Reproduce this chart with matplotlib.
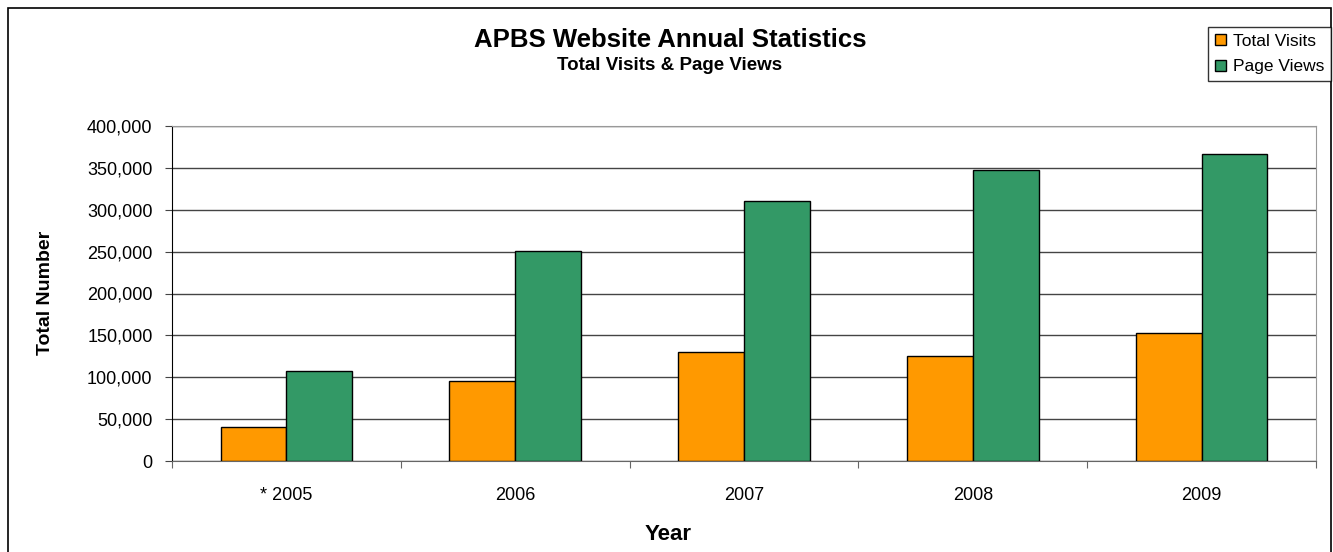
import matplotlib
matplotlib.use("Agg")
import matplotlib.pyplot as plt
import numpy as np
from matplotlib.patches import Rectangle
from matplotlib.ticker import FuncFormatter

years = ["* 2005", "2006", "2007", "2008", "2009"]
total_visits = [41000, 95000, 130000, 125000, 153000]
page_views = [108000, 251000, 310000, 347000, 367000]

plt.rcParams["font.family"] = ["Liberation Sans", "DejaVu Sans"]

W, H = 1333, 552
fig = plt.figure(figsize=(W / 100, H / 100), dpi=100)

# outer chart border (bottom runs off the image)
fig.patches.append(Rectangle((8 / W, -0.05), (1331 - 8) / W, 1 - 8 / H + 0.05,
                             transform=fig.transFigure, fill=False,
                             edgecolor="black", lw=1.2))

ax = fig.add_axes([172 / W, 1 - 461 / H, (1316 - 172) / W, (461 - 126) / H])

x = np.arange(len(years))
w = 0.288
ax.bar(x - w / 2, total_visits, w, color="#FF9900", edgecolor="black", lw=1,
       label="Total Visits", zorder=3)
ax.bar(x + w / 2, page_views, w, color="#339966", edgecolor="black", lw=1,
       label="Page Views", zorder=3)

ax.set_xlim(-0.5, len(years) - 0.5)
ax.set_ylim(0, 400000)
ax.set_yticks(np.arange(0, 400001, 50000))
ax.yaxis.set_major_formatter(FuncFormatter(lambda v, p: f"{int(v):,}"))
ax.yaxis.grid(True, color="#444444", lw=1, zorder=0)
ax.tick_params(axis="y", labelsize=13, length=5, direction="out", color="#444444", pad=9)

# category labels at centres, ticks at boundaries
ax.set_xticks(np.arange(-0.5, len(years), 1.0))
ax.set_xticklabels([])
ax.tick_params(axis="x", which="major", length=5, direction="out", color="#666666")
ax.set_xticks(x, minor=True)
ax.set_xticklabels(years, minor=True)
ax.tick_params(axis="x", which="minor", length=0, labelsize=13, pad=19)

ax.spines["left"].set_color("black")
ax.spines["bottom"].set_color("#666666")
ax.spines["top"].set_color("#999999")
ax.spines["right"].set_color("#999999")

fig.text(46 / W, 1 - 293 / H, "Total Number", rotation=90, ha="center", va="center",
         fontsize=14, fontweight="bold")
fig.text(668 / W, 1 - 535 / H, "Year", ha="center", va="center",
         fontsize=16, fontweight="bold")

fig.text(670 / W, 1 - 40 / H, "APBS Website Annual Statistics", ha="center", va="center",
         fontsize=18.5, fontweight="bold")
fig.text(670 / W, 1 - 66 / H, "Total Visits & Page Views", ha="center", va="center",
         fontsize=13.5, fontweight="bold")

leg = fig.legend(loc="upper right", bbox_to_anchor=(1331 / W, 1 - 27 / H),
                 fontsize=12.5, frameon=True, fancybox=False, edgecolor="black",
                 handlelength=0.6, handleheight=0.6, handletextpad=0.4,
                 borderpad=0.4, labelspacing=0.6, borderaxespad=0)
leg.get_frame().set_linewidth(1)

fig.savefig("out.png", dpi=100)
